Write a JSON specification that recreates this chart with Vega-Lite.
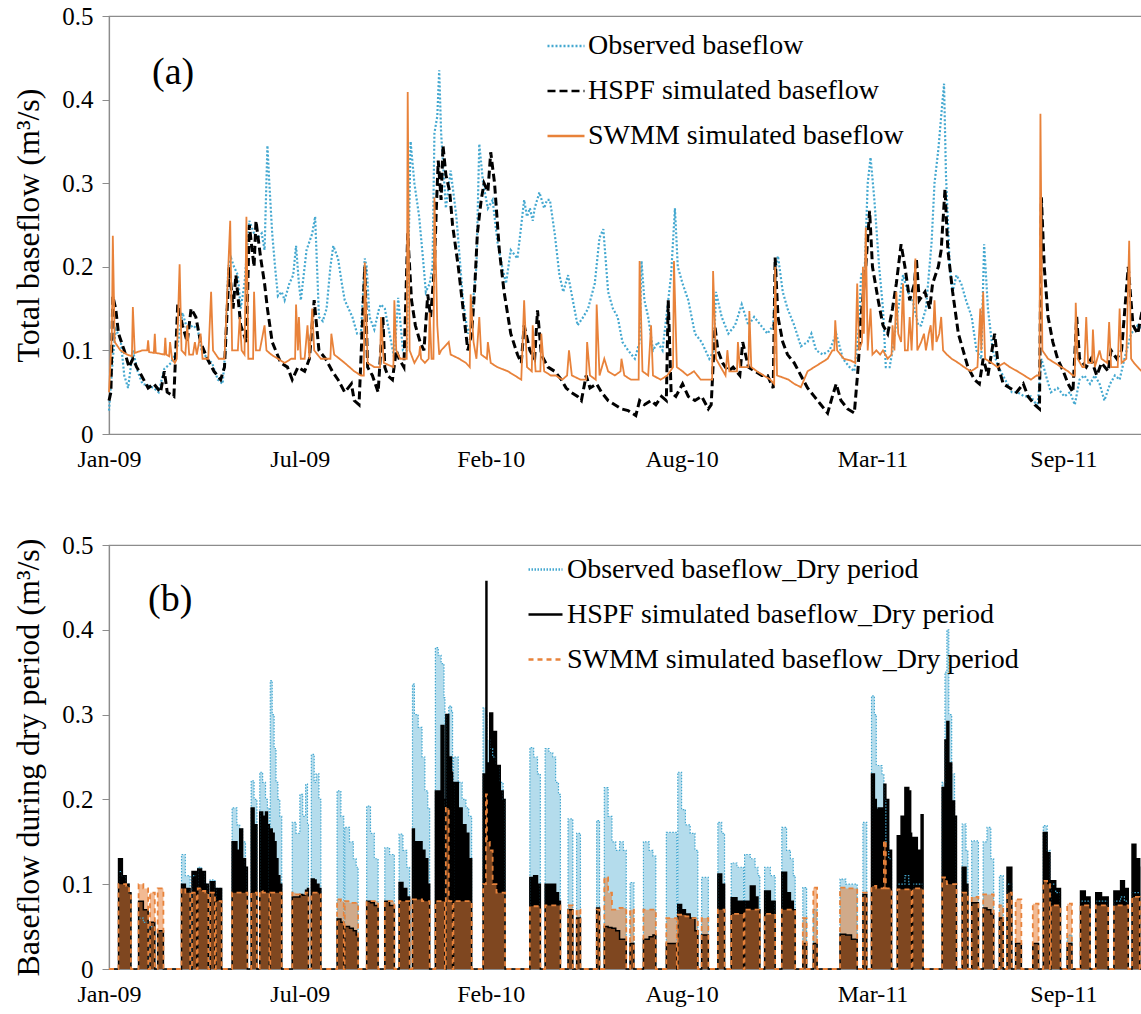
{
  "$schema": "https://vega.github.io/schema/vega-lite/v6.json",
  "background": "white",
  "padding": {"left": 12, "top": 3, "right": 0, "bottom": 0},
  "spacing": 60,
  "config": {
    "view": {"stroke": "#8c8c8c", "strokeWidth": 1.2},
    "axis": {"grid": false, "labelFont": "Liberation Serif", "labelFontSize": 25, "labelColor": "#000000", "titleFont": "Liberation Serif", "titleFontSize": 32, "titleFontWeight": "normal", "titleColor": "#000000", "domainColor": "#8c8c8c", "domainWidth": 1.2, "tickColor": "#8c8c8c", "labelFlush": false, "labelOverlap": false},
    "legend": {"labelFont": "Liberation Serif", "labelFontSize": 28, "labelColor": "#000000", "labelLimit": 0},
    "title": {"font": "Liberation Serif", "fontSize": 38, "fontWeight": "normal", "color": "#000000"}
  },
  "resolve": {"scale": {"color": "independent", "strokeDash": "independent"}, "legend": {"color": "independent", "strokeDash": "independent"}},
  "vconcat": [
    {
      "width": 1045,
      "height": 418,
      "title": {"text": "(a)", "orient": "top", "anchor": "start", "frame": "group", "align": "left", "baseline": "middle", "offset": 0, "dx": 43, "dy": 107, "font": "Liberation Serif", "fontSize": 38, "fontWeight": "normal", "color": "#000000"},
      "data": {"values": [
        {"s":"O","d":0,"v":0.028},{"s":"O","d":4,"v":0.09},{"s":"O","d":7,"v":0.125},{"s":"O","d":12,"v":0.115},{"s":"O","d":16,"v":0.07},{"s":"O","d":20,"v":0.055},{"s":"O","d":25,"v":0.1},{"s":"O","d":30,"v":0.075},{"s":"O","d":35,"v":0.06},{"s":"O","d":41,"v":0.058},{"s":"O","d":47,"v":0.055},{"s":"O","d":52,"v":0.05},{"s":"O","d":58,"v":0.078},{"s":"O","d":65,"v":0.085},{"s":"O","d":71,"v":0.1},{"s":"O","d":77,"v":0.145},{"s":"O","d":82,"v":0.125},{"s":"O","d":88,"v":0.13},{"s":"O","d":93,"v":0.125},{"s":"O","d":97,"v":0.1},{"s":"O","d":103,"v":0.09},{"s":"O","d":108,"v":0.085},{"s":"O","d":114,"v":0.065},{"s":"O","d":119,"v":0.06},{"s":"O","d":122,"v":0.1},{"s":"O","d":125,"v":0.2},{"s":"O","d":128,"v":0.21},{"s":"O","d":131,"v":0.2},{"s":"O","d":135,"v":0.19},{"s":"O","d":138,"v":0.15},{"s":"O","d":142,"v":0.18},{"s":"O","d":147,"v":0.255},{"s":"O","d":152,"v":0.24},{"s":"O","d":156,"v":0.235},{"s":"O","d":160,"v":0.24},{"s":"O","d":163,"v":0.22},{"s":"O","d":166,"v":0.345},{"s":"O","d":168,"v":0.3},{"s":"O","d":171,"v":0.24},{"s":"O","d":174,"v":0.2},{"s":"O","d":177,"v":0.165},{"s":"O","d":181,"v":0.17},{"s":"O","d":184,"v":0.16},{"s":"O","d":189,"v":0.18},{"s":"O","d":193,"v":0.19},{"s":"O","d":196,"v":0.225},{"s":"O","d":199,"v":0.18},{"s":"O","d":201,"v":0.16},{"s":"O","d":204,"v":0.19},{"s":"O","d":207,"v":0.22},{"s":"O","d":210,"v":0.23},{"s":"O","d":213,"v":0.24},{"s":"O","d":216,"v":0.26},{"s":"O","d":218,"v":0.2},{"s":"O","d":220,"v":0.14},{"s":"O","d":224,"v":0.135},{"s":"O","d":228,"v":0.15},{"s":"O","d":232,"v":0.2},{"s":"O","d":235,"v":0.225},{"s":"O","d":240,"v":0.21},{"s":"O","d":244,"v":0.18},{"s":"O","d":247,"v":0.16},{"s":"O","d":251,"v":0.15},{"s":"O","d":255,"v":0.14},{"s":"O","d":260,"v":0.12},{"s":"O","d":264,"v":0.12},{"s":"O","d":268,"v":0.21},{"s":"O","d":270,"v":0.2},{"s":"O","d":273,"v":0.14},{"s":"O","d":278,"v":0.125},{"s":"O","d":283,"v":0.15},{"s":"O","d":285,"v":0.155},{"s":"O","d":289,"v":0.15},{"s":"O","d":294,"v":0.12},{"s":"O","d":299,"v":0.09},{"s":"O","d":303,"v":0.163},{"s":"O","d":308,"v":0.1},{"s":"O","d":312,"v":0.1},{"s":"O","d":316,"v":0.35},{"s":"O","d":320,"v":0.3},{"s":"O","d":325,"v":0.26},{"s":"O","d":329,"v":0.21},{"s":"O","d":332,"v":0.17},{"s":"O","d":336,"v":0.18},{"s":"O","d":339,"v":0.2},{"s":"O","d":341,"v":0.36},{"s":"O","d":344,"v":0.38},{"s":"O","d":346,"v":0.435},{"s":"O","d":348,"v":0.36},{"s":"O","d":353,"v":0.27},{"s":"O","d":358,"v":0.315},{"s":"O","d":364,"v":0.26},{"s":"O","d":371,"v":0.16},{"s":"O","d":376,"v":0.12},{"s":"O","d":379,"v":0.13},{"s":"O","d":385,"v":0.2},{"s":"O","d":388,"v":0.347},{"s":"O","d":392,"v":0.3},{"s":"O","d":397,"v":0.27},{"s":"O","d":402,"v":0.28},{"s":"O","d":404,"v":0.26},{"s":"O","d":407,"v":0.23},{"s":"O","d":412,"v":0.2},{"s":"O","d":416,"v":0.18},{"s":"O","d":421,"v":0.22},{"s":"O","d":428,"v":0.21},{"s":"O","d":435,"v":0.28},{"s":"O","d":438,"v":0.26},{"s":"O","d":441,"v":0.27},{"s":"O","d":444,"v":0.255},{"s":"O","d":446,"v":0.27},{"s":"O","d":451,"v":0.289},{"s":"O","d":456,"v":0.27},{"s":"O","d":459,"v":0.28},{"s":"O","d":462,"v":0.28},{"s":"O","d":467,"v":0.24},{"s":"O","d":472,"v":0.19},{"s":"O","d":476,"v":0.17},{"s":"O","d":481,"v":0.19},{"s":"O","d":486,"v":0.16},{"s":"O","d":491,"v":0.13},{"s":"O","d":497,"v":0.14},{"s":"O","d":502,"v":0.15},{"s":"O","d":509,"v":0.18},{"s":"O","d":514,"v":0.235},{"s":"O","d":518,"v":0.245},{"s":"O","d":523,"v":0.17},{"s":"O","d":528,"v":0.15},{"s":"O","d":533,"v":0.14},{"s":"O","d":538,"v":0.11},{"s":"O","d":544,"v":0.1},{"s":"O","d":551,"v":0.09},{"s":"O","d":556,"v":0.11},{"s":"O","d":558,"v":0.207},{"s":"O","d":561,"v":0.16},{"s":"O","d":565,"v":0.14},{"s":"O","d":570,"v":0.1},{"s":"O","d":575,"v":0.11},{"s":"O","d":580,"v":0.1},{"s":"O","d":586,"v":0.16},{"s":"O","d":589,"v":0.19},{"s":"O","d":593,"v":0.27},{"s":"O","d":596,"v":0.2},{"s":"O","d":601,"v":0.18},{"s":"O","d":607,"v":0.16},{"s":"O","d":614,"v":0.12},{"s":"O","d":621,"v":0.11},{"s":"O","d":629,"v":0.09},{"s":"O","d":634,"v":0.1},{"s":"O","d":636,"v":0.17},{"s":"O","d":642,"v":0.14},{"s":"O","d":649,"v":0.12},{"s":"O","d":656,"v":0.13},{"s":"O","d":663,"v":0.155},{"s":"O","d":670,"v":0.13},{"s":"O","d":676,"v":0.14},{"s":"O","d":683,"v":0.13},{"s":"O","d":690,"v":0.12},{"s":"O","d":696,"v":0.13},{"s":"O","d":699,"v":0.2},{"s":"O","d":701,"v":0.213},{"s":"O","d":706,"v":0.17},{"s":"O","d":711,"v":0.15},{"s":"O","d":718,"v":0.13},{"s":"O","d":725,"v":0.105},{"s":"O","d":732,"v":0.11},{"s":"O","d":736,"v":0.12},{"s":"O","d":741,"v":0.1},{"s":"O","d":748,"v":0.095},{"s":"O","d":755,"v":0.1},{"s":"O","d":762,"v":0.12},{"s":"O","d":769,"v":0.09},{"s":"O","d":776,"v":0.08},{"s":"O","d":781,"v":0.075},{"s":"O","d":786,"v":0.13},{"s":"O","d":788,"v":0.19},{"s":"O","d":792,"v":0.2},{"s":"O","d":795,"v":0.3},{"s":"O","d":798,"v":0.331},{"s":"O","d":802,"v":0.28},{"s":"O","d":807,"v":0.2},{"s":"O","d":811,"v":0.15},{"s":"O","d":814,"v":0.08},{"s":"O","d":818,"v":0.08},{"s":"O","d":821,"v":0.1},{"s":"O","d":827,"v":0.15},{"s":"O","d":832,"v":0.19},{"s":"O","d":837,"v":0.17},{"s":"O","d":842,"v":0.16},{"s":"O","d":848,"v":0.13},{"s":"O","d":851,"v":0.13},{"s":"O","d":856,"v":0.15},{"s":"O","d":862,"v":0.23},{"s":"O","d":865,"v":0.3},{"s":"O","d":869,"v":0.34},{"s":"O","d":872,"v":0.38},{"s":"O","d":875,"v":0.419},{"s":"O","d":877,"v":0.31},{"s":"O","d":881,"v":0.2},{"s":"O","d":884,"v":0.17},{"s":"O","d":888,"v":0.19},{"s":"O","d":893,"v":0.18},{"s":"O","d":898,"v":0.16},{"s":"O","d":904,"v":0.14},{"s":"O","d":909,"v":0.1},{"s":"O","d":914,"v":0.09},{"s":"O","d":917,"v":0.227},{"s":"O","d":921,"v":0.15},{"s":"O","d":926,"v":0.1},{"s":"O","d":932,"v":0.08},{"s":"O","d":939,"v":0.065},{"s":"O","d":946,"v":0.05},{"s":"O","d":952,"v":0.05},{"s":"O","d":959,"v":0.045},{"s":"O","d":966,"v":0.045},{"s":"O","d":973,"v":0.033},{"s":"O","d":977,"v":0.09},{"s":"O","d":983,"v":0.065},{"s":"O","d":987,"v":0.05},{"s":"O","d":994,"v":0.055},{"s":"O","d":1001,"v":0.045},{"s":"O","d":1007,"v":0.05},{"s":"O","d":1012,"v":0.035},{"s":"O","d":1017,"v":0.065},{"s":"O","d":1022,"v":0.07},{"s":"O","d":1028,"v":0.06},{"s":"O","d":1033,"v":0.07},{"s":"O","d":1038,"v":0.06},{"s":"O","d":1043,"v":0.04},{"s":"O","d":1049,"v":0.06},{"s":"O","d":1054,"v":0.07},{"s":"O","d":1059,"v":0.065},{"s":"O","d":1064,"v":0.09},{"s":"O","d":1071,"v":0.12},{"s":"O","d":1078,"v":0.13},{"s":"O","d":1083,"v":0.125},{"s":"O","d":1088,"v":0.12},{"s":"O","d":1094,"v":0.13},

        {"s":"H","d":0,"v":0.04},{"s":"H","d":2,"v":0.05},{"s":"H","d":4,"v":0.165},{"s":"H","d":7,"v":0.15},{"s":"H","d":10,"v":0.12},{"s":"H","d":16,"v":0.1},{"s":"H","d":21,"v":0.08},{"s":"H","d":25,"v":0.09},{"s":"H","d":29,"v":0.08},{"s":"H","d":34,"v":0.07},{"s":"H","d":41,"v":0.055},{"s":"H","d":47,"v":0.06},{"s":"H","d":54,"v":0.05},{"s":"H","d":58,"v":0.075},{"s":"H","d":61,"v":0.05},{"s":"H","d":68,"v":0.045},{"s":"H","d":72,"v":0.155},{"s":"H","d":77,"v":0.13},{"s":"H","d":82,"v":0.11},{"s":"H","d":86,"v":0.15},{"s":"H","d":91,"v":0.14},{"s":"H","d":96,"v":0.11},{"s":"H","d":103,"v":0.09},{"s":"H","d":110,"v":0.075},{"s":"H","d":117,"v":0.065},{"s":"H","d":121,"v":0.08},{"s":"H","d":126,"v":0.2},{"s":"H","d":130,"v":0.15},{"s":"H","d":133,"v":0.19},{"s":"H","d":138,"v":0.13},{"s":"H","d":144,"v":0.11},{"s":"H","d":147,"v":0.25},{"s":"H","d":152,"v":0.2},{"s":"H","d":154,"v":0.255},{"s":"H","d":159,"v":0.21},{"s":"H","d":163,"v":0.18},{"s":"H","d":166,"v":0.15},{"s":"H","d":171,"v":0.11},{"s":"H","d":180,"v":0.085},{"s":"H","d":187,"v":0.08},{"s":"H","d":192,"v":0.065},{"s":"H","d":198,"v":0.08},{"s":"H","d":205,"v":0.075},{"s":"H","d":210,"v":0.09},{"s":"H","d":215,"v":0.16},{"s":"H","d":220,"v":0.1},{"s":"H","d":227,"v":0.09},{"s":"H","d":234,"v":0.075},{"s":"H","d":240,"v":0.065},{"s":"H","d":247,"v":0.05},{"s":"H","d":254,"v":0.06},{"s":"H","d":257,"v":0.04},{"s":"H","d":262,"v":0.035},{"s":"H","d":268,"v":0.2},{"s":"H","d":271,"v":0.08},{"s":"H","d":276,"v":0.07},{"s":"H","d":282,"v":0.05},{"s":"H","d":287,"v":0.14},{"s":"H","d":289,"v":0.08},{"s":"H","d":292,"v":0.07},{"s":"H","d":297,"v":0.065},{"s":"H","d":301,"v":0.1},{"s":"H","d":304,"v":0.09},{"s":"H","d":309,"v":0.08},{"s":"H","d":313,"v":0.24},{"s":"H","d":317,"v":0.16},{"s":"H","d":321,"v":0.13},{"s":"H","d":326,"v":0.11},{"s":"H","d":330,"v":0.1},{"s":"H","d":334,"v":0.167},{"s":"H","d":337,"v":0.14},{"s":"H","d":341,"v":0.2},{"s":"H","d":343,"v":0.27},{"s":"H","d":345,"v":0.327},{"s":"H","d":348,"v":0.28},{"s":"H","d":350,"v":0.345},{"s":"H","d":353,"v":0.31},{"s":"H","d":357,"v":0.29},{"s":"H","d":360,"v":0.25},{"s":"H","d":366,"v":0.2},{"s":"H","d":371,"v":0.15},{"s":"H","d":376,"v":0.1},{"s":"H","d":380,"v":0.12},{"s":"H","d":383,"v":0.17},{"s":"H","d":386,"v":0.24},{"s":"H","d":390,"v":0.28},{"s":"H","d":393,"v":0.3},{"s":"H","d":397,"v":0.29},{"s":"H","d":400,"v":0.337},{"s":"H","d":404,"v":0.3},{"s":"H","d":409,"v":0.22},{"s":"H","d":414,"v":0.17},{"s":"H","d":421,"v":0.12},{"s":"H","d":428,"v":0.095},{"s":"H","d":432,"v":0.085},{"s":"H","d":435,"v":0.13},{"s":"H","d":441,"v":0.1},{"s":"H","d":446,"v":0.09},{"s":"H","d":449,"v":0.148},{"s":"H","d":453,"v":0.095},{"s":"H","d":460,"v":0.08},{"s":"H","d":467,"v":0.075},{"s":"H","d":474,"v":0.065},{"s":"H","d":479,"v":0.055},{"s":"H","d":484,"v":0.05},{"s":"H","d":491,"v":0.045},{"s":"H","d":495,"v":0.04},{"s":"H","d":500,"v":0.07},{"s":"H","d":504,"v":0.055},{"s":"H","d":511,"v":0.06},{"s":"H","d":516,"v":0.05},{"s":"H","d":523,"v":0.04},{"s":"H","d":530,"v":0.035},{"s":"H","d":537,"v":0.03},{"s":"H","d":544,"v":0.028},{"s":"H","d":552,"v":0.022},{"s":"H","d":556,"v":0.04},{"s":"H","d":561,"v":0.035},{"s":"H","d":568,"v":0.04},{"s":"H","d":573,"v":0.035},{"s":"H","d":579,"v":0.045},{"s":"H","d":584,"v":0.04},{"s":"H","d":586,"v":0.16},{"s":"H","d":589,"v":0.05},{"s":"H","d":594,"v":0.045},{"s":"H","d":601,"v":0.06},{"s":"H","d":607,"v":0.045},{"s":"H","d":614,"v":0.04},{"s":"H","d":621,"v":0.045},{"s":"H","d":628,"v":0.03},{"s":"H","d":631,"v":0.035},{"s":"H","d":635,"v":0.128},{"s":"H","d":638,"v":0.1},{"s":"H","d":643,"v":0.085},{"s":"H","d":649,"v":0.075},{"s":"H","d":654,"v":0.08},{"s":"H","d":661,"v":0.07},{"s":"H","d":664,"v":0.11},{"s":"H","d":670,"v":0.08},{"s":"H","d":677,"v":0.075},{"s":"H","d":684,"v":0.07},{"s":"H","d":690,"v":0.07},{"s":"H","d":696,"v":0.055},{"s":"H","d":698,"v":0.211},{"s":"H","d":701,"v":0.14},{"s":"H","d":706,"v":0.11},{"s":"H","d":711,"v":0.095},{"s":"H","d":718,"v":0.085},{"s":"H","d":725,"v":0.07},{"s":"H","d":732,"v":0.055},{"s":"H","d":739,"v":0.045},{"s":"H","d":746,"v":0.035},{"s":"H","d":753,"v":0.025},{"s":"H","d":758,"v":0.045},{"s":"H","d":762,"v":0.06},{"s":"H","d":767,"v":0.04},{"s":"H","d":774,"v":0.03},{"s":"H","d":781,"v":0.025},{"s":"H","d":785,"v":0.08},{"s":"H","d":788,"v":0.14},{"s":"H","d":793,"v":0.2},{"s":"H","d":797,"v":0.267},{"s":"H","d":800,"v":0.2},{"s":"H","d":806,"v":0.16},{"s":"H","d":811,"v":0.13},{"s":"H","d":816,"v":0.12},{"s":"H","d":821,"v":0.15},{"s":"H","d":825,"v":0.18},{"s":"H","d":830,"v":0.227},{"s":"H","d":834,"v":0.2},{"s":"H","d":839,"v":0.16},{"s":"H","d":844,"v":0.18},{"s":"H","d":846,"v":0.21},{"s":"H","d":849,"v":0.16},{"s":"H","d":855,"v":0.17},{"s":"H","d":860,"v":0.15},{"s":"H","d":863,"v":0.18},{"s":"H","d":869,"v":0.2},{"s":"H","d":872,"v":0.22},{"s":"H","d":876,"v":0.293},{"s":"H","d":879,"v":0.22},{"s":"H","d":884,"v":0.17},{"s":"H","d":890,"v":0.12},{"s":"H","d":895,"v":0.1},{"s":"H","d":900,"v":0.08},{"s":"H","d":907,"v":0.065},{"s":"H","d":912,"v":0.06},{"s":"H","d":916,"v":0.09},{"s":"H","d":921,"v":0.07},{"s":"H","d":928,"v":0.12},{"s":"H","d":932,"v":0.08},{"s":"H","d":937,"v":0.06},{"s":"H","d":944,"v":0.055},{"s":"H","d":951,"v":0.05},{"s":"H","d":958,"v":0.06},{"s":"H","d":963,"v":0.045},{"s":"H","d":970,"v":0.035},{"s":"H","d":975,"v":0.03},{"s":"H","d":977,"v":0.283},{"s":"H","d":980,"v":0.2},{"s":"H","d":984,"v":0.14},{"s":"H","d":989,"v":0.11},{"s":"H","d":994,"v":0.09},{"s":"H","d":1000,"v":0.075},{"s":"H","d":1005,"v":0.06},{"s":"H","d":1010,"v":0.05},{"s":"H","d":1014,"v":0.14},{"s":"H","d":1017,"v":0.09},{"s":"H","d":1024,"v":0.08},{"s":"H","d":1029,"v":0.09},{"s":"H","d":1035,"v":0.07},{"s":"H","d":1040,"v":0.085},{"s":"H","d":1047,"v":0.075},{"s":"H","d":1050,"v":0.1},{"s":"H","d":1056,"v":0.09},{"s":"H","d":1061,"v":0.1},{"s":"H","d":1068,"v":0.2},{"s":"H","d":1073,"v":0.13},{"s":"H","d":1078,"v":0.12},{"s":"H","d":1083,"v":0.15},{"s":"H","d":1088,"v":0.12},{"s":"H","d":1094,"v":0.11},

        {"s":"S","d":0,"v":0.05},{"s":"S","d":3,"v":0.12},{"s":"S","d":4,"v":0.237},{"s":"S","d":6,"v":0.11},{"s":"S","d":12,"v":0.1},{"s":"S","d":19,"v":0.095},{"s":"S","d":24,"v":0.093},{"s":"S","d":25,"v":0.152},{"s":"S","d":27,"v":0.097},{"s":"S","d":35,"v":0.1},{"s":"S","d":40,"v":0.1},{"s":"S","d":41,"v":0.112},{"s":"S","d":42,"v":0.098},{"s":"S","d":47,"v":0.097},{"s":"S","d":48,"v":0.12},{"s":"S","d":49,"v":0.097},{"s":"S","d":58,"v":0.095},{"s":"S","d":59,"v":0.115},{"s":"S","d":60,"v":0.095},{"s":"S","d":63,"v":0.093},{"s":"S","d":64,"v":0.11},{"s":"S","d":66,"v":0.09},{"s":"S","d":69,"v":0.085},{"s":"S","d":71,"v":0.09},{"s":"S","d":74,"v":0.203},{"s":"S","d":76,"v":0.1},{"s":"S","d":80,"v":0.095},{"s":"S","d":82,"v":0.13},{"s":"S","d":84,"v":0.095},{"s":"S","d":88,"v":0.095},{"s":"S","d":90,"v":0.11},{"s":"S","d":92,"v":0.095},{"s":"S","d":96,"v":0.12},{"s":"S","d":98,"v":0.09},{"s":"S","d":104,"v":0.09},{"s":"S","d":107,"v":0.17},{"s":"S","d":109,"v":0.1},{"s":"S","d":115,"v":0.09},{"s":"S","d":121,"v":0.09},{"s":"S","d":127,"v":0.255},{"s":"S","d":129,"v":0.1},{"s":"S","d":135,"v":0.1},{"s":"S","d":137,"v":0.14},{"s":"S","d":139,"v":0.1},{"s":"S","d":142,"v":0.095},{"s":"S","d":144,"v":0.26},{"s":"S","d":146,"v":0.09},{"s":"S","d":151,"v":0.09},{"s":"S","d":152,"v":0.17},{"s":"S","d":154,"v":0.1},{"s":"S","d":158,"v":0.1},{"s":"S","d":163,"v":0.13},{"s":"S","d":165,"v":0.1},{"s":"S","d":170,"v":0.095},{"s":"S","d":177,"v":0.09},{"s":"S","d":184,"v":0.085},{"s":"S","d":191,"v":0.09},{"s":"S","d":195,"v":0.09},{"s":"S","d":196,"v":0.155},{"s":"S","d":198,"v":0.1},{"s":"S","d":199,"v":0.14},{"s":"S","d":201,"v":0.09},{"s":"S","d":205,"v":0.09},{"s":"S","d":208,"v":0.13},{"s":"S","d":210,"v":0.09},{"s":"S","d":213,"v":0.15},{"s":"S","d":215,"v":0.1},{"s":"S","d":222,"v":0.09},{"s":"S","d":232,"v":0.09},{"s":"S","d":233,"v":0.12},{"s":"S","d":236,"v":0.095},{"s":"S","d":247,"v":0.085},{"s":"S","d":257,"v":0.075},{"s":"S","d":264,"v":0.07},{"s":"S","d":267,"v":0.07},{"s":"S","d":268,"v":0.205},{"s":"S","d":271,"v":0.085},{"s":"S","d":278,"v":0.08},{"s":"S","d":284,"v":0.08},{"s":"S","d":285,"v":0.14},{"s":"S","d":288,"v":0.085},{"s":"S","d":298,"v":0.08},{"s":"S","d":299,"v":0.16},{"s":"S","d":301,"v":0.1},{"s":"S","d":305,"v":0.09},{"s":"S","d":312,"v":0.09},{"s":"S","d":313,"v":0.409},{"s":"S","d":315,"v":0.1},{"s":"S","d":320,"v":0.085},{"s":"S","d":325,"v":0.095},{"s":"S","d":326,"v":0.105},{"s":"S","d":327,"v":0.09},{"s":"S","d":331,"v":0.085},{"s":"S","d":335,"v":0.09},{"s":"S","d":336,"v":0.145},{"s":"S","d":338,"v":0.09},{"s":"S","d":340,"v":0.09},{"s":"S","d":341,"v":0.283},{"s":"S","d":344,"v":0.13},{"s":"S","d":346,"v":0.095},{"s":"S","d":348,"v":0.1},{"s":"S","d":356,"v":0.11},{"s":"S","d":358,"v":0.095},{"s":"S","d":367,"v":0.09},{"s":"S","d":374,"v":0.085},{"s":"S","d":378,"v":0.08},{"s":"S","d":379,"v":0.167},{"s":"S","d":382,"v":0.11},{"s":"S","d":385,"v":0.09},{"s":"S","d":388,"v":0.14},{"s":"S","d":390,"v":0.095},{"s":"S","d":396,"v":0.09},{"s":"S","d":397,"v":0.11},{"s":"S","d":400,"v":0.085},{"s":"S","d":407,"v":0.08},{"s":"S","d":418,"v":0.075},{"s":"S","d":425,"v":0.07},{"s":"S","d":432,"v":0.065},{"s":"S","d":435,"v":0.16},{"s":"S","d":438,"v":0.08},{"s":"S","d":443,"v":0.075},{"s":"S","d":444,"v":0.13},{"s":"S","d":447,"v":0.075},{"s":"S","d":452,"v":0.075},{"s":"S","d":453,"v":0.12},{"s":"S","d":456,"v":0.075},{"s":"S","d":463,"v":0.07},{"s":"S","d":468,"v":0.07},{"s":"S","d":475,"v":0.065},{"s":"S","d":480,"v":0.07},{"s":"S","d":482,"v":0.1},{"s":"S","d":485,"v":0.07},{"s":"S","d":494,"v":0.065},{"s":"S","d":500,"v":0.065},{"s":"S","d":501,"v":0.11},{"s":"S","d":504,"v":0.07},{"s":"S","d":510,"v":0.065},{"s":"S","d":511,"v":0.155},{"s":"S","d":514,"v":0.07},{"s":"S","d":519,"v":0.09},{"s":"S","d":523,"v":0.075},{"s":"S","d":530,"v":0.07},{"s":"S","d":536,"v":0.075},{"s":"S","d":537,"v":0.09},{"s":"S","d":540,"v":0.07},{"s":"S","d":547,"v":0.065},{"s":"S","d":555,"v":0.065},{"s":"S","d":556,"v":0.207},{"s":"S","d":559,"v":0.075},{"s":"S","d":565,"v":0.07},{"s":"S","d":568,"v":0.13},{"s":"S","d":570,"v":0.07},{"s":"S","d":578,"v":0.065},{"s":"S","d":585,"v":0.07},{"s":"S","d":591,"v":0.08},{"s":"S","d":592,"v":0.207},{"s":"S","d":595,"v":0.08},{"s":"S","d":601,"v":0.075},{"s":"S","d":606,"v":0.07},{"s":"S","d":613,"v":0.075},{"s":"S","d":620,"v":0.065},{"s":"S","d":632,"v":0.065},{"s":"S","d":633,"v":0.195},{"s":"S","d":636,"v":0.09},{"s":"S","d":641,"v":0.08},{"s":"S","d":646,"v":0.07},{"s":"S","d":648,"v":0.1},{"s":"S","d":650,"v":0.075},{"s":"S","d":658,"v":0.075},{"s":"S","d":659,"v":0.11},{"s":"S","d":661,"v":0.08},{"s":"S","d":670,"v":0.08},{"s":"S","d":671,"v":0.147},{"s":"S","d":673,"v":0.08},{"s":"S","d":679,"v":0.075},{"s":"S","d":686,"v":0.07},{"s":"S","d":693,"v":0.065},{"s":"S","d":697,"v":0.06},{"s":"S","d":698,"v":0.2},{"s":"S","d":700,"v":0.07},{"s":"S","d":705,"v":0.068},{"s":"S","d":712,"v":0.065},{"s":"S","d":718,"v":0.06},{"s":"S","d":725,"v":0.056},{"s":"S","d":732,"v":0.075},{"s":"S","d":739,"v":0.08},{"s":"S","d":746,"v":0.085},{"s":"S","d":753,"v":0.09},{"s":"S","d":758,"v":0.1},{"s":"S","d":760,"v":0.1},{"s":"S","d":761,"v":0.136},{"s":"S","d":763,"v":0.1},{"s":"S","d":770,"v":0.09},{"s":"S","d":777,"v":0.088},{"s":"S","d":782,"v":0.085},{"s":"S","d":784,"v":0.18},{"s":"S","d":786,"v":0.1},{"s":"S","d":789,"v":0.11},{"s":"S","d":790,"v":0.2},{"s":"S","d":791,"v":0.12},{"s":"S","d":793,"v":0.247},{"s":"S","d":795,"v":0.1},{"s":"S","d":798,"v":0.15},{"s":"S","d":800,"v":0.095},{"s":"S","d":804,"v":0.1},{"s":"S","d":808,"v":0.095},{"s":"S","d":811,"v":0.1},{"s":"S","d":816,"v":0.09},{"s":"S","d":820,"v":0.095},{"s":"S","d":821,"v":0.13},{"s":"S","d":823,"v":0.1},{"s":"S","d":825,"v":0.17},{"s":"S","d":827,"v":0.12},{"s":"S","d":830,"v":0.11},{"s":"S","d":832,"v":0.18},{"s":"S","d":834,"v":0.1},{"s":"S","d":837,"v":0.1},{"s":"S","d":839,"v":0.14},{"s":"S","d":841,"v":0.1},{"s":"S","d":845,"v":0.21},{"s":"S","d":847,"v":0.1},{"s":"S","d":851,"v":0.11},{"s":"S","d":854,"v":0.12},{"s":"S","d":856,"v":0.1},{"s":"S","d":859,"v":0.12},{"s":"S","d":861,"v":0.13},{"s":"S","d":863,"v":0.1},{"s":"S","d":865,"v":0.16},{"s":"S","d":867,"v":0.11},{"s":"S","d":870,"v":0.12},{"s":"S","d":872,"v":0.14},{"s":"S","d":874,"v":0.1},{"s":"S","d":878,"v":0.095},{"s":"S","d":883,"v":0.09},{"s":"S","d":890,"v":0.085},{"s":"S","d":896,"v":0.08},{"s":"S","d":903,"v":0.075},{"s":"S","d":910,"v":0.08},{"s":"S","d":913,"v":0.15},{"s":"S","d":914,"v":0.1},{"s":"S","d":916,"v":0.17},{"s":"S","d":918,"v":0.09},{"s":"S","d":925,"v":0.085},{"s":"S","d":931,"v":0.08},{"s":"S","d":938,"v":0.085},{"s":"S","d":944,"v":0.08},{"s":"S","d":952,"v":0.075},{"s":"S","d":959,"v":0.07},{"s":"S","d":966,"v":0.065},{"s":"S","d":972,"v":0.07},{"s":"S","d":975,"v":0.07},{"s":"S","d":976,"v":0.383},{"s":"S","d":978,"v":0.1},{"s":"S","d":984,"v":0.09},{"s":"S","d":991,"v":0.085},{"s":"S","d":998,"v":0.08},{"s":"S","d":1005,"v":0.075},{"s":"S","d":1010,"v":0.07},{"s":"S","d":1012,"v":0.07},{"s":"S","d":1013,"v":0.157},{"s":"S","d":1015,"v":0.09},{"s":"S","d":1020,"v":0.08},{"s":"S","d":1022,"v":0.08},{"s":"S","d":1024,"v":0.14},{"s":"S","d":1026,"v":0.085},{"s":"S","d":1030,"v":0.085},{"s":"S","d":1031,"v":0.125},{"s":"S","d":1033,"v":0.08},{"s":"S","d":1038,"v":0.1},{"s":"S","d":1040,"v":0.09},{"s":"S","d":1046,"v":0.085},{"s":"S","d":1048,"v":0.134},{"s":"S","d":1050,"v":0.08},{"s":"S","d":1057,"v":0.08},{"s":"S","d":1059,"v":0.15},{"s":"S","d":1061,"v":0.085},{"s":"S","d":1066,"v":0.09},{"s":"S","d":1069,"v":0.231},{"s":"S","d":1071,"v":0.09},{"s":"S","d":1074,"v":0.085},{"s":"S","d":1078,"v":0.08},{"s":"S","d":1082,"v":0.075},{"s":"S","d":1086,"v":0.11},{"s":"S","d":1088,"v":0.08},{"s":"S","d":1094,"v":0.075}
      ]},
      "encoding": {
        "x": {"field": "d", "type": "quantitative", "scale": {"domain": [0, 1095], "nice": false, "zero": false},
              "axis": {"title": null, "values": [0, 200, 400, 600, 800, 1000], "labelExpr": "timeFormat(datetime(2009, 0, 1 + datum.value), '%b-%y')", "ticks": false, "labelPadding": 13, "labelFont": "Liberation Serif", "labelFontSize": 24}},
        "y": {"field": "v", "type": "quantitative", "stack": null, "scale": {"domain": [0, 0.5], "nice": false},
              "axis": {"title": "Total baseflow (m³/s)", "values": [0, 0.1, 0.2, 0.3, 0.4, 0.5], "format": ".1~f", "tickSize": 7, "labelPadding": 9, "titlePadding": 16, "labelFont": "Liberation Serif", "labelFontSize": 25, "titleFont": "Liberation Serif"}}
      },
      "layer": [
        {"transform": [{"filter": "datum.s === 'O'"}], "mark": {"type": "line", "strokeWidth": 2.2},
         "encoding": {
           "color": {"field": "s", "type": "nominal", "scale": {"domain": ["O", "H", "S"], "range": ["#44A8D0", "#000000", "#E8823A"]},
                     "legend": {"title": null, "orient": "none", "legendX": 437, "legendY": 10, "direction": "vertical", "symbolType": "stroke", "symbolSize": 1369, "symbolStrokeWidth": 2.5, "labelOffset": 2, "rowPadding": 11, "padding": 0, "labelFont": "Liberation Serif", "labelFontSize": 28, "labelExpr": "datum.value === 'O' ? 'Observed baseflow' : datum.value === 'H' ? 'HSPF simulated baseflow' : 'SWMM simulated baseflow'"}},
           "strokeDash": {"field": "s", "type": "nominal", "scale": {"domain": ["O", "H", "S"], "range": [[2, 2], [8, 4], [1, 0]]},
                     "legend": {"title": null, "orient": "none", "legendX": 437, "legendY": 10, "direction": "vertical", "symbolType": "stroke", "symbolSize": 1369, "symbolStrokeWidth": 2.5, "labelOffset": 2, "rowPadding": 11, "padding": 0, "labelFont": "Liberation Serif", "labelFontSize": 28, "labelExpr": "datum.value === 'O' ? 'Observed baseflow' : datum.value === 'H' ? 'HSPF simulated baseflow' : 'SWMM simulated baseflow'"}}
         }},
        {"transform": [{"filter": "datum.s === 'H'"}], "mark": {"type": "line", "strokeWidth": 3},
         "encoding": {"color": {"field": "s", "type": "nominal"}, "strokeDash": {"field": "s", "type": "nominal"}}},
        {"transform": [{"filter": "datum.s === 'S'"}], "mark": {"type": "line", "strokeWidth": 1.8},
         "encoding": {"color": {"field": "s", "type": "nominal"}, "strokeDash": {"field": "s", "type": "nominal"}}}
      ]
    },
    {
      "width": 1045,
      "height": 424,
      "title": {"text": "(b)", "orient": "top", "anchor": "start", "frame": "group", "align": "left", "baseline": "middle", "offset": 0, "dx": 39, "dy": 105, "font": "Liberation Serif", "fontSize": 38, "fontWeight": "normal", "color": "#000000"},
      "data": {"values": [
        {"d":0,"O":0,"H":0,"S":0},
        {"d":10,"O":0.115,"H":0.13,"S":0.1},{"d":14,"O":0.11,"H":0.11,"S":0.1},{"d":18,"O":0.1,"H":0.1,"S":0.098},{"d":21,"O":0.09,"H":0.09,"S":0.09},{"d":23,"O":0,"H":0,"S":0},
        {"d":31,"O":0.06,"H":0.08,"S":0.1},{"d":36,"O":0.055,"H":0.07,"S":0.095},{"d":41,"O":0,"H":0,"S":0},
        {"d":43,"O":0.05,"H":0.055,"S":0.09},{"d":48,"O":0,"H":0,"S":0},
        {"d":51,"O":0.045,"H":0.045,"S":0.095},{"d":57,"O":0,"H":0,"S":0},
        {"d":76,"O":0.135,"H":0.1,"S":0.095},{"d":80,"O":0.11,"H":0.095,"S":0.09},{"d":85,"O":0,"H":0,"S":0},
        {"d":87,"O":0.11,"H":0.115,"S":0.09},{"d":92,"O":0,"H":0,"S":0},
        {"d":93,"O":0.12,"H":0.118,"S":0.095},{"d":97,"O":0.115,"H":0.115,"S":0.092},{"d":101,"O":0.1,"H":0.1,"S":0.09},{"d":104,"O":0,"H":0,"S":0},
        {"d":106,"O":0.105,"H":0.103,"S":0.09},{"d":111,"O":0,"H":0,"S":0},
        {"d":112,"O":0.095,"H":0.095,"S":0.08},{"d":118,"O":0,"H":0,"S":0},
        {"d":129,"O":0.19,"H":0.15,"S":0.09},{"d":134,"O":0.17,"H":0.14,"S":0.09},{"d":137,"O":0.165,"H":0.165,"S":0.09},{"d":140,"O":0.15,"H":0.13,"S":0.09},{"d":143,"O":0.12,"H":0.12,"S":0.09},{"d":145,"O":0,"H":0,"S":0},
        {"d":149,"O":0.222,"H":0.19,"S":0.09},{"d":152,"O":0.2,"H":0.17,"S":0.09},{"d":155,"O":0,"H":0,"S":0},
        {"d":158,"O":0.232,"H":0.185,"S":0.092},{"d":161,"O":0.22,"H":0.18,"S":0.09},{"d":164,"O":0.2,"H":0.185,"S":0.09},{"d":166,"O":0.19,"H":0.17,"S":0.09},{"d":168,"O":0,"H":0,"S":0},
        {"d":169,"O":0.34,"H":0.165,"S":0.09},{"d":171,"O":0.3,"H":0.16,"S":0.09},{"d":173,"O":0.26,"H":0.15,"S":0.09},{"d":175,"O":0.22,"H":0.13,"S":0.09},{"d":177,"O":0.2,"H":0.11,"S":0.09},{"d":179,"O":0.18,"H":0.1,"S":0.09},{"d":181,"O":0,"H":0,"S":0},
        {"d":192,"O":0.173,"H":0.085,"S":0.09},{"d":196,"O":0.16,"H":0.085,"S":0.088},{"d":200,"O":0.206,"H":0.088,"S":0.088},{"d":203,"O":0.18,"H":0.087,"S":0.088},{"d":206,"O":0.218,"H":0.093,"S":0.09},{"d":208,"O":0.17,"H":0.095,"S":0.09},{"d":209,"O":0,"H":0,"S":0},
        {"d":212,"O":0.253,"H":0.106,"S":0.09},{"d":215,"O":0.22,"H":0.105,"S":0.09},{"d":217,"O":0.23,"H":0.1,"S":0.09},{"d":220,"O":0.2,"H":0.095,"S":0.088},{"d":222,"O":0,"H":0,"S":0},
        {"d":239,"O":0.21,"H":0.059,"S":0.082},{"d":243,"O":0.18,"H":0.055,"S":0.08},{"d":246,"O":0,"H":0,"S":0},
        {"d":247,"O":0.167,"H":0.05,"S":0.08},{"d":252,"O":0.15,"H":0.048,"S":0.078},{"d":256,"O":0.13,"H":0.045,"S":0.078},{"d":259,"O":0.12,"H":0.04,"S":0.078},{"d":261,"O":0,"H":0,"S":0},
        {"d":270,"O":0.192,"H":0.08,"S":0.08},{"d":274,"O":0.16,"H":0.078,"S":0.08},{"d":278,"O":0.13,"H":0.075,"S":0.08},{"d":282,"O":0,"H":0,"S":0},
        {"d":289,"O":0.143,"H":0.08,"S":0.08},{"d":294,"O":0.135,"H":0.075,"S":0.08},{"d":299,"O":0,"H":0,"S":0},
        {"d":304,"O":0.159,"H":0.102,"S":0.08},{"d":308,"O":0.14,"H":0.095,"S":0.08},{"d":312,"O":0.12,"H":0.085,"S":0.08},{"d":315,"O":0,"H":0,"S":0},
        {"d":318,"O":0.336,"H":0.165,"S":0.082},{"d":320,"O":0.3,"H":0.15,"S":0.082},{"d":324,"O":0.285,"H":0.15,"S":0.082},{"d":328,"O":0.25,"H":0.14,"S":0.08},{"d":331,"O":0.21,"H":0.13,"S":0.08},{"d":334,"O":0.19,"H":0.1,"S":0.08},{"d":336,"O":0,"H":0,"S":0},
        {"d":342,"O":0.379,"H":0.21,"S":0.08},{"d":345,"O":0.37,"H":0.21,"S":0.08},{"d":348,"O":0.36,"H":0.287,"S":0.08},{"d":351,"O":0.32,"H":0.2,"S":0.08},{"d":352,"O":0,"H":0,"S":0},{"d":353,"O":0.3,"H":0.3,"S":0.19},{"d":356,"O":0.31,"H":0.25,"S":0.08},{"d":359,"O":0.304,"H":0.232,"S":0.08},{"d":360,"O":0,"H":0,"S":0},{"d":361,"O":0.25,"H":0.22,"S":0.08},{"d":366,"O":0.22,"H":0.19,"S":0.08},{"d":370,"O":0.2,"H":0.17,"S":0.08},{"d":374,"O":0.19,"H":0.16,"S":0.08},{"d":377,"O":0.18,"H":0.13,"S":0.08},{"d":380,"O":0,"H":0,"S":0},
        {"d":392,"O":0.308,"H":0.23,"S":0.1},{"d":395,"O":0.3,"H":0.457,"S":0.206},{"d":396,"O":0.27,"H":0.243,"S":0.15},{"d":399,"O":0.26,"H":0.302,"S":0.14},{"d":402,"O":0.25,"H":0.28,"S":0.1},{"d":406,"O":0.24,"H":0.24,"S":0.09},{"d":410,"O":0.22,"H":0.21,"S":0.09},{"d":413,"O":0.2,"H":0.2,"S":0.09},{"d":415,"O":0,"H":0,"S":0},
        {"d":441,"O":0.261,"H":0.108,"S":0.074},{"d":445,"O":0.25,"H":0.11,"S":0.074},{"d":449,"O":0.23,"H":0.1,"S":0.074},{"d":452,"O":0,"H":0,"S":0},
        {"d":457,"O":0.26,"H":0.1,"S":0.075},{"d":461,"O":0.255,"H":0.1,"S":0.075},{"d":465,"O":0.25,"H":0.1,"S":0.075},{"d":468,"O":0.22,"H":0.09,"S":0.075},{"d":471,"O":0.206,"H":0.08,"S":0.075},{"d":473,"O":0,"H":0,"S":0},
        {"d":481,"O":0.177,"H":0.07,"S":0.075},{"d":486,"O":0,"H":0,"S":0},
        {"d":490,"O":0.16,"H":0.06,"S":0.07},{"d":494,"O":0,"H":0,"S":0},
        {"d":511,"O":0.175,"H":0.072,"S":0.07},{"d":514,"O":0,"H":0,"S":0},
        {"d":519,"O":0.214,"H":0.05,"S":0.108},{"d":523,"O":0.18,"H":0.049,"S":0.09},{"d":527,"O":0.15,"H":0.048,"S":0.07},{"d":531,"O":0.14,"H":0.045,"S":0.07},{"d":535,"O":0.15,"H":0.035,"S":0.072},{"d":539,"O":0.14,"H":0.035,"S":0.072},{"d":542,"O":0,"H":0,"S":0},
        {"d":546,"O":0.102,"H":0.03,"S":0.07},{"d":550,"O":0,"H":0,"S":0},
        {"d":560,"O":0.15,"H":0.035,"S":0.07},{"d":566,"O":0.14,"H":0.038,"S":0.07},{"d":570,"O":0.133,"H":0.04,"S":0.07},{"d":573,"O":0,"H":0,"S":0},
        {"d":584,"O":0.161,"H":0.03,"S":0.06},{"d":595,"O":0,"H":0,"S":0},
        {"d":596,"O":0.232,"H":0.076,"S":0.064},{"d":600,"O":0.188,"H":0.07,"S":0.064},{"d":604,"O":0.17,"H":0.065,"S":0.062},{"d":609,"O":0.16,"H":0.06,"S":0.06},{"d":614,"O":0.14,"H":0.045,"S":0.06},{"d":617,"O":0,"H":0,"S":0},
        {"d":621,"O":0.108,"H":0.04,"S":0.06},{"d":628,"O":0,"H":0,"S":0},
        {"d":638,"O":0.173,"H":0.112,"S":0.07},{"d":642,"O":0.16,"H":0.1,"S":0.07},{"d":645,"O":0,"H":0,"S":0},
        {"d":652,"O":0.125,"H":0.084,"S":0.065},{"d":658,"O":0.12,"H":0.08,"S":0.065},{"d":665,"O":0,"H":0,"S":0},
        {"d":666,"O":0.135,"H":0.08,"S":0.07},{"d":672,"O":0.13,"H":0.098,"S":0.07},{"d":677,"O":0.12,"H":0.085,"S":0.07},{"d":680,"O":0.11,"H":0.07,"S":0.07},{"d":682,"O":0,"H":0,"S":0},
        {"d":687,"O":0.12,"H":0.092,"S":0.065},{"d":693,"O":0.11,"H":0.08,"S":0.065},{"d":698,"O":0,"H":0,"S":0},
        {"d":705,"O":0.167,"H":0.114,"S":0.07},{"d":710,"O":0.14,"H":0.09,"S":0.07},{"d":714,"O":0.13,"H":0.08,"S":0.07},{"d":717,"O":0.11,"H":0.07,"S":0.07},{"d":719,"O":0,"H":0,"S":0},
        {"d":727,"O":0.096,"H":0.03,"S":0.06},{"d":731,"O":0,"H":0,"S":0},
        {"d":738,"O":0.07,"H":0.03,"S":0.096},{"d":742,"O":0,"H":0,"S":0},
        {"d":766,"O":0.106,"H":0.041,"S":0.096},{"d":772,"O":0.1,"H":0.04,"S":0.095},{"d":778,"O":0.1,"H":0.035,"S":0.095},{"d":784,"O":0,"H":0,"S":0},
        {"d":790,"O":0.173,"H":0.088,"S":0.09},{"d":794,"O":0,"H":0,"S":0},
        {"d":799,"O":0.322,"H":0.23,"S":0.098},{"d":802,"O":0.3,"H":0.2,"S":0.098},{"d":804,"O":0.24,"H":0.188,"S":0.095},{"d":806,"O":0.24,"H":0.19,"S":0.095},{"d":810,"O":0.23,"H":0.19,"S":0.095},{"d":812,"O":0.2,"H":0.218,"S":0.151},{"d":814,"O":0.15,"H":0.2,"S":0.095},{"d":817,"O":0.13,"H":0.14,"S":0.095},{"d":820,"O":0,"H":0,"S":0},
        {"d":826,"O":0.1,"H":0.157,"S":0.094},{"d":830,"O":0.1,"H":0.18,"S":0.094},{"d":834,"O":0.11,"H":0.214,"S":0.094},{"d":838,"O":0.1,"H":0.21,"S":0.094},{"d":840,"O":0.1,"H":0.16,"S":0.094},{"d":841,"O":0,"H":0,"S":0},
        {"d":842,"O":0.1,"H":0.155,"S":0.095},{"d":847,"O":0.1,"H":0.14,"S":0.095},{"d":851,"O":0.1,"H":0.182,"S":0.095},{"d":853,"O":0,"H":0,"S":0},
        {"d":873,"O":0.22,"H":0.214,"S":0.108},{"d":876,"O":0.35,"H":0.27,"S":0.105},{"d":878,"O":0.4,"H":0.292,"S":0.1},{"d":880,"O":0.3,"H":0.243,"S":0.1},{"d":883,"O":0.23,"H":0.198,"S":0.1},{"d":886,"O":0.18,"H":0.18,"S":0.1},{"d":888,"O":0,"H":0,"S":0},
        {"d":894,"O":0.171,"H":0.12,"S":0.09},{"d":898,"O":0.14,"H":0.1,"S":0.09},{"d":900,"O":0,"H":0,"S":0},
        {"d":904,"O":0.151,"H":0.078,"S":0.085},{"d":911,"O":0,"H":0,"S":0},
        {"d":916,"O":0.15,"H":0.072,"S":0.088},{"d":920,"O":0.167,"H":0.07,"S":0.088},{"d":924,"O":0.13,"H":0.065,"S":0.088},{"d":927,"O":0,"H":0,"S":0},
        {"d":933,"O":0.11,"H":0.06,"S":0.075},{"d":937,"O":0,"H":0,"S":0},
        {"d":941,"O":0.1,"H":0.12,"S":0.09},{"d":946,"O":0,"H":0,"S":0},
        {"d":950,"O":0.03,"H":0.03,"S":0.082},{"d":956,"O":0,"H":0,"S":0},
        {"d":968,"O":0.03,"H":0.03,"S":0.077},{"d":974,"O":0,"H":0,"S":0},
        {"d":979,"O":0.169,"H":0.161,"S":0.104},{"d":983,"O":0.14,"H":0.137,"S":0.1},{"d":986,"O":0,"H":0,"S":0},
        {"d":987,"O":0.1,"H":0.104,"S":0.075},{"d":992,"O":0.09,"H":0.095,"S":0.075},{"d":997,"O":0,"H":0,"S":0},
        {"d":1004,"O":0.04,"H":0.03,"S":0.077},{"d":1009,"O":0,"H":0,"S":0},
        {"d":1018,"O":0.08,"H":0.092,"S":0.075},{"d":1023,"O":0.08,"H":0.085,"S":0.075},{"d":1028,"O":0,"H":0,"S":0},
        {"d":1034,"O":0.08,"H":0.09,"S":0.075},{"d":1040,"O":0.08,"H":0.085,"S":0.075},{"d":1047,"O":0,"H":0,"S":0},
        {"d":1053,"O":0.08,"H":0.092,"S":0.075},{"d":1060,"O":0.085,"H":0.104,"S":0.075},{"d":1064,"O":0.08,"H":0.095,"S":0.075},{"d":1068,"O":0,"H":0,"S":0},
        {"d":1072,"O":0.09,"H":0.147,"S":0.085},{"d":1076,"O":0.09,"H":0.13,"S":0.085},{"d":1080,"O":0,"H":0,"S":0},
        {"d":1082,"O":0.09,"H":0.12,"S":0.08},{"d":1086,"O":0.085,"H":0.1,"S":0.08},{"d":1093,"O":0,"H":0,"S":0},
        {"d":1095,"O":0,"H":0,"S":0}
      ]},
      "encoding": {
        "x": {"field": "d", "type": "quantitative", "scale": {"domain": [0, 1095], "nice": false, "zero": false},
              "axis": {"title": null, "values": [0, 200, 400, 600, 800, 1000], "labelExpr": "timeFormat(datetime(2009, 0, 1 + datum.value), '%b-%y')", "ticks": false, "labelPadding": 13, "labelFont": "Liberation Serif", "labelFontSize": 24}},
        "y": {"field": "v", "type": "quantitative", "stack": null, "scale": {"domain": [0, 0.5], "nice": false},
              "axis": {"title": "Baseflow during dry period (m³/s)", "values": [0, 0.1, 0.2, 0.3, 0.4, 0.5], "format": ".1~f", "tickSize": 7, "labelPadding": 9, "titlePadding": 16, "labelFont": "Liberation Serif", "labelFontSize": 25, "titleFont": "Liberation Serif"}}
      },
      "layer": [
        {"transform": [{"fold": ["O", "H", "S"], "as": ["s", "v"]}, {"filter": "datum.s === 'O'"}],
         "mark": {"type": "area", "interpolate": "step-after", "color": "#44A8D0", "opacity": 0.4}},
        {"transform": [{"fold": ["O", "H", "S"], "as": ["s", "v"]}, {"filter": "datum.s === 'H'"}],
         "mark": {"type": "area", "interpolate": "step-after", "color": "#000000", "opacity": 1}},
        {"transform": [{"fold": ["O", "H", "S"], "as": ["s", "v"]}, {"filter": "datum.s === 'S'"}],
         "mark": {"type": "area", "interpolate": "step-after", "color": "#E8823A", "opacity": 0.55}},
        {"transform": [{"fold": ["O", "H", "S"], "as": ["s", "v"]}, {"filter": "datum.s === 'O'"}],
         "mark": {"type": "line", "interpolate": "step-after", "strokeWidth": 1.2},
         "encoding": {
           "color": {"field": "s", "type": "nominal", "scale": {"domain": ["O", "H", "S"], "range": ["#44A8D0", "#000000", "#E8823A"]},
                     "legend": {"title": null, "orient": "none", "legendX": 418, "legendY": 6, "direction": "vertical", "symbolType": "stroke", "symbolSize": 1156, "symbolStrokeWidth": 2.5, "labelOffset": 3, "rowPadding": 12, "padding": 0, "labelFont": "Liberation Serif", "labelFontSize": 28, "labelExpr": "datum.value === 'O' ? 'Observed baseflow_Dry period' : datum.value === 'H' ? 'HSPF simulated baseflow_Dry period' : 'SWMM simulated baseflow_Dry period'"}},
           "strokeDash": {"field": "s", "type": "nominal", "scale": {"domain": ["O", "H", "S"], "range": [[1.5, 1.5], [1, 0], [5, 4]]},
                     "legend": {"title": null, "orient": "none", "legendX": 418, "legendY": 6, "direction": "vertical", "symbolType": "stroke", "symbolSize": 1156, "symbolStrokeWidth": 2.5, "labelOffset": 3, "rowPadding": 12, "padding": 0, "labelFont": "Liberation Serif", "labelFontSize": 28, "labelExpr": "datum.value === 'O' ? 'Observed baseflow_Dry period' : datum.value === 'H' ? 'HSPF simulated baseflow_Dry period' : 'SWMM simulated baseflow_Dry period'"}}
         }},
        {"transform": [{"fold": ["O", "H", "S"], "as": ["s", "v"]}, {"filter": "datum.s === 'H'"}],
         "mark": {"type": "line", "interpolate": "step-after", "strokeWidth": 1.5},
         "encoding": {"color": {"field": "s", "type": "nominal"}, "strokeDash": {"field": "s", "type": "nominal"}}},
        {"transform": [{"fold": ["O", "H", "S"], "as": ["s", "v"]}, {"filter": "datum.s === 'S'"}],
         "mark": {"type": "line", "interpolate": "step-after", "strokeWidth": 1.8},
         "encoding": {"color": {"field": "s", "type": "nominal"}, "strokeDash": {"field": "s", "type": "nominal"}}}
      ]
    }
  ]
}
